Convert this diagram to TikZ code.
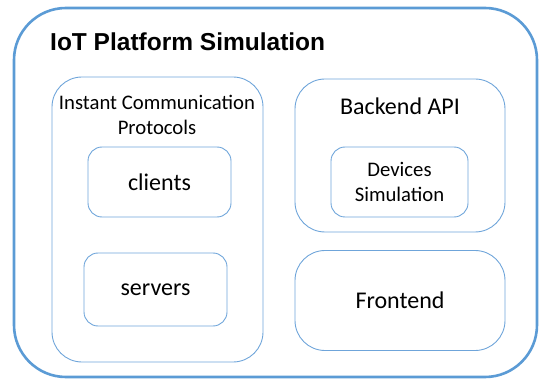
\documentclass[tikz,border=0pt]{standalone}
\usepackage{fontspec}
\setmainfont{Carlito}
\newfontfamily\titlefont{Liberation Sans}
\definecolor{boxblue}{HTML}{5B9BD5}
\definecolor{inblue}{HTML}{6FA5DA}
\begin{document}
\begin{tikzpicture}[x=1pt,y=-1pt,
  outerbox/.style={draw=boxblue,line width=2.6pt,rounded corners=52pt},
  panel/.style={draw=inblue,line width=0.9pt,rounded corners=30pt,inner sep=0pt},
  inbox/.style={draw=inblue,line width=0.9pt,rounded corners=14pt,inner sep=0pt},
  lbl/.style={font=\fontsize{20.7}{24.5}\selectfont,align=center,inner sep=0pt},
  biglbl/.style={font=\fontsize{24}{28}\selectfont,align=center,inner sep=0pt}]
\useasboundingbox (0,0) rectangle (540,379);
\draw[outerbox] (14,8) rectangle (537,377);
\node[anchor=base west,inner sep=0pt,font=\titlefont\bfseries\fontsize{24.5}{28}\selectfont] (title) at (50,51) {IoT Platform Simulation};
% left panel
\node[panel,minimum width=211pt,minimum height=285pt] (icp) at (157.5,219.5) {};
\node[lbl] (icptxt) at (157,115) {Instant Communication\\Protocols};
\node[inbox,minimum width=143pt,minimum height=70pt] (clients) at (159.5,182) {};
\node[biglbl] at (clients.center) {clients};
\node[inbox,minimum width=143pt,minimum height=73pt] (servers) at (155.5,289.5) {};
\node[biglbl] at (servers.center) {servers};
% right
\node[panel,minimum width=210pt,minimum height=153pt] (api) at (400,155.5) {};
\node[biglbl] (apitxt) at (400,106) {Backend API};
\node[inbox,minimum width=137pt,minimum height=70pt] (dev) at (399.5,182) {};
\node[lbl,font=\fontsize{20.7}{25.5}\selectfont] at (dev.center) {Devices\\Simulation};
\node[panel,minimum width=210pt,minimum height=100pt] (fe) at (400,300.5) {};
\node[biglbl] at (fe.center) {Frontend};
\end{tikzpicture}
\end{document}
